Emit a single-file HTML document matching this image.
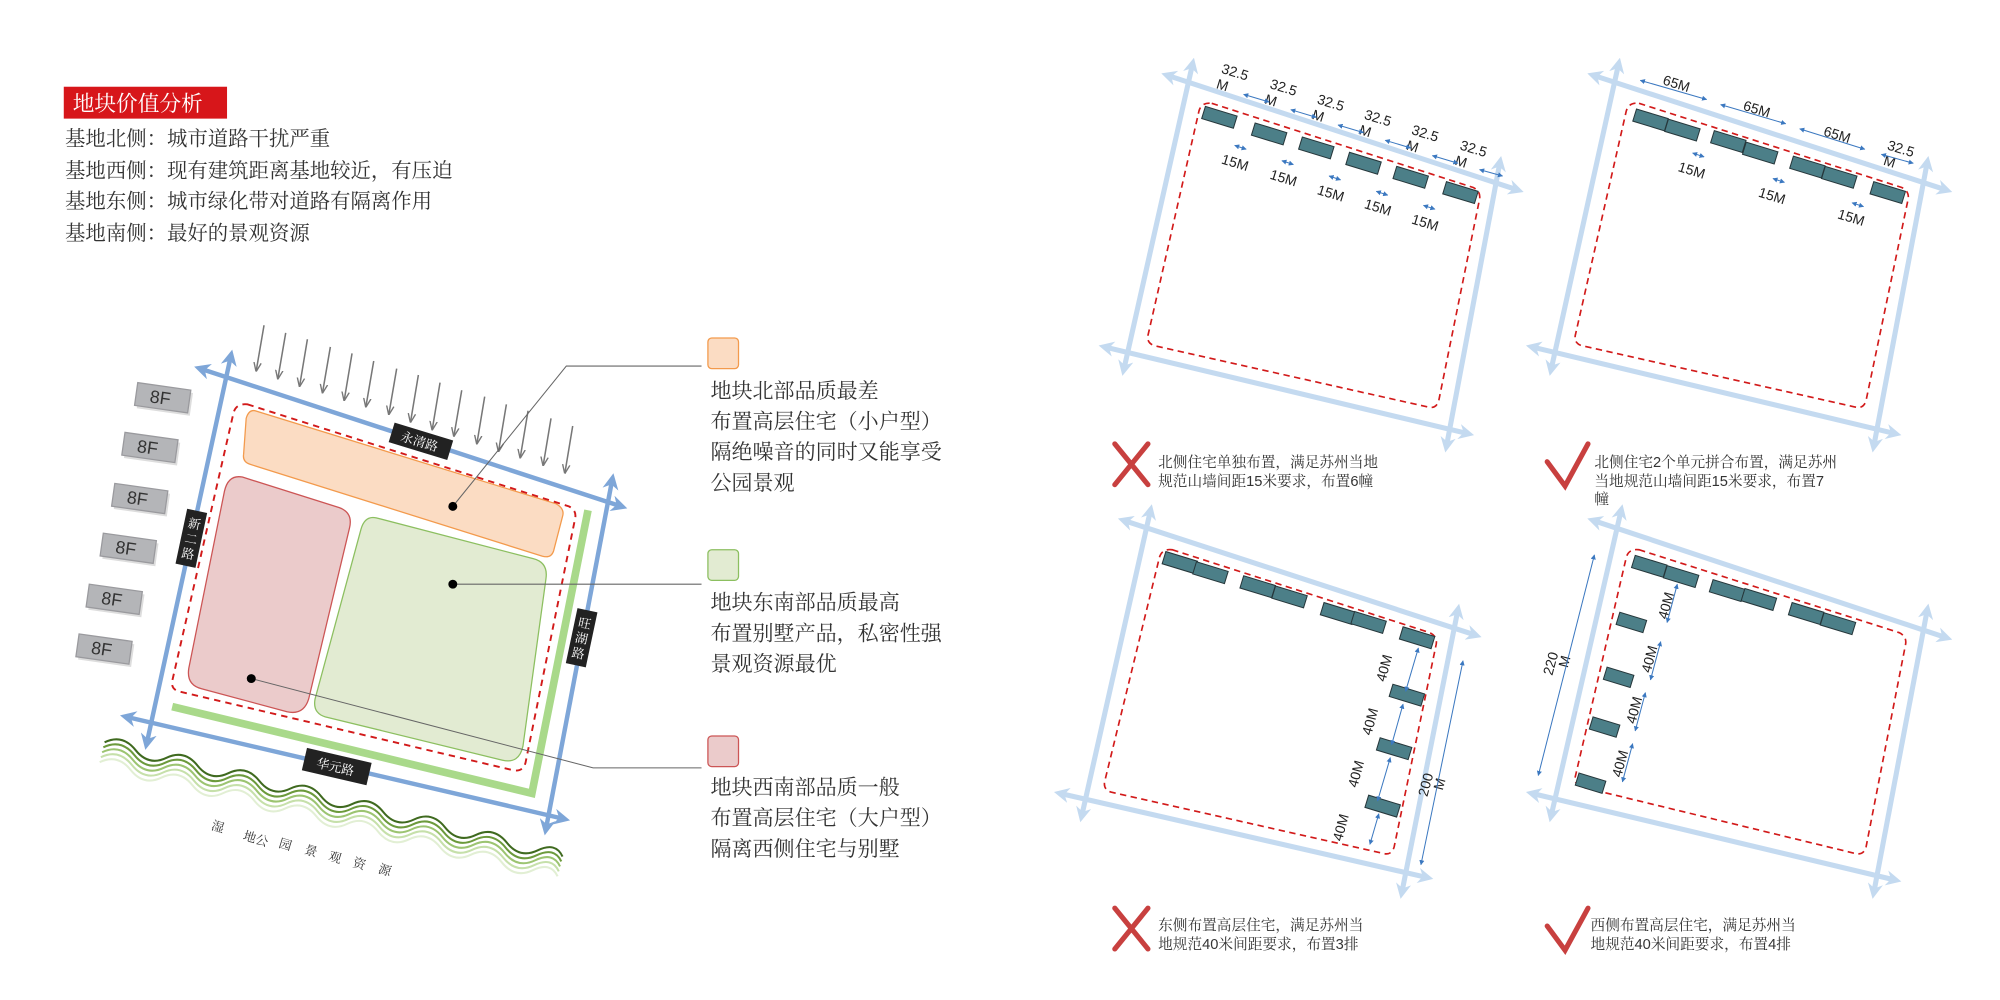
<!DOCTYPE html>
<html><head><meta charset="utf-8"><style>
html,body{margin:0;padding:0;background:#fff;}
svg{display:block}
text{font-family:"Liberation Sans","Noto Serif CJK SC","Noto Sans CJK SC",serif;}
.s{font-family:"Liberation Sans","Noto Sans CJK SC",sans-serif;}
</style></head><body>
<svg width="2000" height="1000" viewBox="0 0 1568 784" xmlns="http://www.w3.org/2000/svg">
<defs>
<marker id="ab" viewBox="0 0 10 10" refX="6" refY="5" markerWidth="3.6" markerHeight="3.6" orient="auto-start-reverse"><path d="M0,0 L10,5 L0,10 L3,5 z" fill="#7ea6d8"/></marker>
<marker id="al" viewBox="0 0 10 10" refX="6" refY="5" markerWidth="3" markerHeight="3" orient="auto-start-reverse"><path d="M0,0 L10,5 L0,10 L3,5 z" fill="#c4daf0"/></marker>
<marker id="ag" viewBox="0 0 10 10" refX="8" refY="5" markerWidth="6" markerHeight="6" orient="auto"><path d="M0,1 L10,5 L0,9" fill="none" stroke="#777" stroke-width="1.5"/></marker>
<marker id="ad" viewBox="0 0 10 10" refX="9" refY="5" markerWidth="5" markerHeight="5" orient="auto-start-reverse"><path d="M0,0 L10,5 L0,10 z" fill="#3b78c0"/></marker>
<g id="bld"><rect x="-13" y="-5" width="26" height="10" fill="#4c7f88" stroke="#26373b" stroke-width="0.8" transform="rotate(17)"/></g>
</defs>

<rect x="50" y="68" width="128" height="25" fill="#d7161a"/>
<text x="57" y="87" font-size="17" fill="#fff">地块价值分析</text>
<g font-size="16" fill="#333">
<text x="51" y="114">基地北侧：城市道路干扰严重</text>
<text x="51" y="139">基地西侧：现有建筑距离基地较近，有压迫</text>
<text x="51" y="163">基地东侧：城市绿化带对道路有隔离作用</text>
<text x="51" y="188">基地南侧：最好的景观资源</text>
</g>

<g stroke="#777" stroke-width="1.2" marker-end="url(#ag)">
<line x1="207" y1="255" x2="201" y2="290"/>
<line x1="224" y1="261" x2="218" y2="296"/>
<line x1="241" y1="266" x2="235" y2="302"/>
<line x1="259" y1="272" x2="253" y2="307"/>
<line x1="276" y1="277" x2="270" y2="313"/>
<line x1="293" y1="283" x2="287" y2="318"/>
<line x1="311" y1="289" x2="305" y2="324"/>
<line x1="328" y1="294" x2="322" y2="330"/>
<line x1="345" y1="300" x2="339" y2="336"/>
<line x1="362" y1="306" x2="356" y2="341"/>
<line x1="380" y1="311" x2="374" y2="347"/>
<line x1="397" y1="317" x2="391" y2="353"/>
<line x1="414" y1="322" x2="408" y2="358"/>
<line x1="432" y1="328" x2="426" y2="364"/>
<line x1="449" y1="334" x2="443" y2="370"/>
</g>

<g font-size="14" fill="#333" class="s">
<g transform="translate(108,300) rotate(8)"><rect x="2" y="2" width="42" height="18" fill="#ddd"/><rect width="42" height="18" fill="#b4b5b8" stroke="#9a9a9e"/><text x="11" y="14">8F</text></g>
<g transform="translate(98,339) rotate(8)"><rect x="2" y="2" width="42" height="18" fill="#ddd"/><rect width="42" height="18" fill="#b4b5b8" stroke="#9a9a9e"/><text x="11" y="14">8F</text></g>
<g transform="translate(90,379) rotate(8)"><rect x="2" y="2" width="42" height="18" fill="#ddd"/><rect width="42" height="18" fill="#b4b5b8" stroke="#9a9a9e"/><text x="11" y="14">8F</text></g>
<g transform="translate(81,418) rotate(8)"><rect x="2" y="2" width="42" height="18" fill="#ddd"/><rect width="42" height="18" fill="#b4b5b8" stroke="#9a9a9e"/><text x="11" y="14">8F</text></g>
<g transform="translate(70,458) rotate(8)"><rect x="2" y="2" width="42" height="18" fill="#ddd"/><rect width="42" height="18" fill="#b4b5b8" stroke="#9a9a9e"/><text x="11" y="14">8F</text></g>
<g transform="translate(62,497) rotate(8)"><rect x="2" y="2" width="42" height="18" fill="#ddd"/><rect width="42" height="18" fill="#b4b5b8" stroke="#9a9a9e"/><text x="11" y="14">8F</text></g>
</g>

<path d="M135,554 L417,622 L461,400" fill="none" stroke="#a9d98a" stroke-width="6"/>

<path d="M200,322 L436,395 Q443,399 441,405 L434,432 Q432,438 425,436 L196,364 Q190,362 191,356 L193,328 Q195,321 200,322 Z" fill="#fbdcc3" stroke="#f39a4c" stroke-width="1"/>
<path d="M190,374 L266,398 Q277,402 274,414 L242,548 Q238,561 225,558 L158,540 Q146,537 148,524 L176,385 Q179,372 190,374 Z" fill="#ebcbcb" stroke="#cc5555" stroke-width="1"/>
<path d="M295,406 L418,438 Q430,441 428,454 L410,585 Q407,599 394,596 L255,562 Q245,559 247,548 L283,415 Q286,404 295,406 Z" fill="#e2ebd2" stroke="#8cbf60" stroke-width="1"/>

<path d="M194,317 L446,397 Q452,400 451,406 L412,598 Q410,605 403,604 L140,542 Q134,540 135,534 L183,324 Q185,316 194,317 Z" fill="none" stroke="#d21a1a" stroke-width="1.5" stroke-dasharray="5,4"/>

<g stroke="#7ea6d8" stroke-width="3.5" fill="none" marker-start="url(#ab)" marker-end="url(#ab)">
<line x1="157" y1="289" x2="487" y2="397"/>
<line x1="181" y1="279" x2="115" y2="583"/>
<line x1="99" y1="562" x2="442" y2="642"/>
<line x1="480" y1="376" x2="428" y2="650"/>
</g>
<g font-size="10" fill="#fff" class="s">
<g transform="translate(330,346) rotate(17)"><rect x="-24" y="-8" width="48" height="16" fill="#222"/><text x="-16" y="4">永清路</text></g>
<g transform="translate(264,601) rotate(13)"><rect x="-26" y="-9" width="52" height="18" fill="#222"/><text x="-16" y="4">华元路</text></g>
<g transform="translate(150,422) rotate(12)"><rect x="-8" y="-22" width="16" height="44" fill="#222"/><text x="-5" y="-8" font-size="10">新</text><text x="-5" y="4">二</text><text x="-5" y="16">路</text></g>
<g transform="translate(456,500) rotate(12)"><rect x="-8" y="-22" width="16" height="44" fill="#222"/><text x="-5" y="-8">旺</text><text x="-5" y="4">湖</text><text x="-5" y="16">路</text></g>
</g>

<g fill="none" stroke-width="1.6" transform="translate(82,582) rotate(14)">
<path d="M0,0 q12,-10 25,0 t25,0 t25,0 t25,0 t25,0 t25,0 t25,0 t25,0 t25,0 t25,0 t25,0 t25,0 t25,0 t25,0 t20,0" stroke="#3f6a1f"/>
<path d="M0,4 q12,-10 25,0 t25,0 t25,0 t25,0 t25,0 t25,0 t25,0 t25,0 t25,0 t25,0 t25,0 t25,0 t25,0 t25,0 t20,0" stroke="#6c9a3c"/>
<path d="M0,8 q12,-10 25,0 t25,0 t25,0 t25,0 t25,0 t25,0 t25,0 t25,0 t25,0 t25,0 t25,0 t25,0 t25,0 t25,0 t20,0" stroke="#9cc471"/>
<path d="M0,12 q12,-10 25,0 t25,0 t25,0 t25,0 t25,0 t25,0 t25,0 t25,0 t25,0 t25,0 t25,0 t25,0 t25,0 t25,0 t20,0" stroke="#c6e0aa"/>
<path d="M0,16 q12,-10 25,0 t25,0 t25,0 t25,0 t25,0 t25,0 t25,0 t25,0 t25,0 t25,0 t25,0 t25,0 t25,0 t25,0 t20,0" stroke="#e2efd4"/>
</g>
<g font-size="10" fill="#333" class="s">
<text x="165" y="650" transform="rotate(17 165 650)">湿</text>
<text x="190" y="658" transform="rotate(17 190 658)">地公</text>
<text x="218" y="664" transform="rotate(17 218 664)">园</text>
<text x="238" y="669" transform="rotate(17 238 669)">景</text>
<text x="257" y="674" transform="rotate(17 257 674)">观</text>
<text x="276" y="679" transform="rotate(17 276 679)">资</text>
<text x="296" y="684" transform="rotate(17 296 684)">源</text>
</g>

<g stroke="#666" stroke-width="0.8" fill="none">
<polyline points="355,397 444,287 550,287"/>
<polyline points="355,458 550,458"/>
<polyline points="197,532 465,602 550,602"/>
</g>
<circle cx="355" cy="397" r="3.5"/><circle cx="355" cy="458" r="3.5"/><circle cx="197" cy="532" r="3.5"/>
<rect x="555" y="265" width="24" height="24" rx="3" fill="#fbdcc3" stroke="#f39a4c"/>
<rect x="555" y="431" width="24" height="24" rx="3" fill="#e2ebd2" stroke="#8cbf60"/>
<rect x="555" y="577" width="24" height="24" rx="3" fill="#ebcbcb" stroke="#cc5555"/>
<g font-size="16.5" fill="#333">
<text x="557" y="312">地块北部品质最差</text>
<text x="557" y="336">布置高层住宅（小户型）</text>
<text x="557" y="360">隔绝噪音的同时又能享受</text>
<text x="557" y="384">公园景观</text>
<text x="557" y="478">地块东南部品质最高</text>
<text x="557" y="502">布置别墅产品，私密性强</text>
<text x="557" y="526">景观资源最优</text>
<text x="557" y="623">地块西南部品质一般</text>
<text x="557" y="647">布置高层住宅（大户型）</text>
<text x="557" y="671">隔离西侧住宅与别墅</text>
</g>

<g stroke="#c4daf0" stroke-width="4" fill="none" marker-start="url(#al)" marker-end="url(#al)">
<line x1="915" y1="59" x2="1190" y2="149"/><line x1="935" y1="50" x2="881" y2="290"/>
<line x1="866" y1="272" x2="1151" y2="340"/><line x1="1176" y1="127" x2="1134" y2="350"/>
<line x1="1249" y1="59" x2="1526" y2="149"/><line x1="1269" y1="50" x2="1216" y2="290"/>
<line x1="1201" y1="272" x2="1486" y2="340"/><line x1="1511" y1="127" x2="1469" y2="350"/>
<line x1="881" y1="408" x2="1157" y2="498"/><line x1="902" y1="400" x2="848" y2="640"/>
<line x1="831" y1="622" x2="1119" y2="688"/><line x1="1143" y1="478" x2="1099" y2="700"/>
<line x1="1249" y1="408" x2="1526" y2="500"/><line x1="1271" y1="400" x2="1216" y2="640"/>
<line x1="1201" y1="622" x2="1486" y2="690"/><line x1="1511" y1="478" x2="1469" y2="700"/>
</g>
<g stroke="#d21a1a" stroke-width="1.3" fill="none" stroke-dasharray="5,3.5">
<path d="M950,81 L1155,147 Q1161,150 1160,156 L1128,314 Q1126,321 1119,319 L905,271 Q899,269 900,263 L940,87 Q942,80 950,81 Z"/>
<path d="M1285,81 L1491,147 Q1497,150 1496,156 L1463,314 Q1461,321 1454,319 L1240,271 Q1234,269 1235,263 L1275,87 Q1277,80 1285,81 Z"/>
<path d="M919,431 L1121,496 Q1127,499 1126,505 L1093,664 Q1091,671 1084,669 L871,621 Q865,619 866,613 L909,437 Q911,430 919,431 Z"/>
<path d="M1285,431 L1489,496 Q1495,499 1494,505 L1463,664 Q1461,671 1454,669 L1240,617 Q1234,615 1235,609 L1275,437 Q1277,430 1285,431 Z"/>
</g>

<use href="#bld" x="956" y="92"/><use href="#bld" x="995" y="105"/><use href="#bld" x="1032" y="116"/>
<use href="#bld" x="1069" y="128"/><use href="#bld" x="1106" y="139"/><use href="#bld" x="1145" y="151"/>

<use href="#bld" x="1294" y="94"/><use href="#bld" x="1319" y="102"/><use href="#bld" x="1355" y="111"/><use href="#bld" x="1380" y="120"/>
<use href="#bld" x="1417" y="131"/><use href="#bld" x="1442" y="139"/><use href="#bld" x="1480" y="151"/>

<use href="#bld" x="925" y="441"/><use href="#bld" x="949" y="449"/><use href="#bld" x="986" y="460"/><use href="#bld" x="1011" y="468"/>
<use href="#bld" x="1049" y="481"/><use href="#bld" x="1073" y="488"/><use href="#bld" x="1111" y="500"/>
<use href="#bld" x="1103" y="545"/><use href="#bld" x="1093" y="587"/><use href="#bld" x="1084" y="632"/>

<use href="#bld" x="1293" y="444"/><use href="#bld" x="1318" y="452"/><use href="#bld" x="1354" y="463"/><use href="#bld" x="1379" y="470"/>
<use href="#bld" x="1416" y="481"/><use href="#bld" x="1441" y="489"/>
<g><rect x="-11" y="-5" width="22" height="10" fill="#4c7f88" stroke="#26373b" stroke-width="0.8" transform="translate(1279,488) rotate(17)"/>
<rect x="-11" y="-5" width="22" height="10" fill="#4c7f88" stroke="#26373b" stroke-width="0.8" transform="translate(1269,531) rotate(17)"/>
<rect x="-11" y="-5" width="22" height="10" fill="#4c7f88" stroke="#26373b" stroke-width="0.8" transform="translate(1258,570) rotate(17)"/>
<rect x="-11" y="-5" width="22" height="10" fill="#4c7f88" stroke="#26373b" stroke-width="0.8" transform="translate(1247,614) rotate(17)"/></g>

<g font-size="11" fill="#222" class="s">
<text x="957" y="57" transform="rotate(17 957 57)">32.5</text><text x="953" y="69" transform="rotate(17 953 69)">M</text>
<text x="995" y="69" transform="rotate(17 995 69)">32.5</text><text x="991" y="81" transform="rotate(17 991 81)">M</text>
<text x="1032" y="81" transform="rotate(17 1032 81)">32.5</text><text x="1028" y="93" transform="rotate(17 1028 93)">M</text>
<text x="1069" y="93" transform="rotate(17 1069 93)">32.5</text><text x="1065" y="105" transform="rotate(17 1065 105)">M</text>
<text x="1106" y="105" transform="rotate(17 1106 105)">32.5</text><text x="1102" y="117" transform="rotate(17 1102 117)">M</text>
<text x="1144" y="117" transform="rotate(17 1144 117)">32.5</text><text x="1140" y="129" transform="rotate(17 1140 129)">M</text>
<text x="957" y="128" transform="rotate(17 957 128)">15M</text>
<text x="995" y="140" transform="rotate(17 995 140)">15M</text>
<text x="1032" y="152" transform="rotate(17 1032 152)">15M</text>
<text x="1069" y="163" transform="rotate(17 1069 163)">15M</text>
<text x="1106" y="175" transform="rotate(17 1106 175)">15M</text>

<text x="1303" y="66" transform="rotate(17 1303 66)">65M</text>
<text x="1366" y="86" transform="rotate(17 1366 86)">65M</text>
<text x="1429" y="106" transform="rotate(17 1429 106)">65M</text>
<text x="1479" y="117" transform="rotate(17 1479 117)">32.5</text><text x="1476" y="129" transform="rotate(17 1476 129)">M</text>
<text x="1315" y="134" transform="rotate(17 1315 134)">15M</text>
<text x="1378" y="154" transform="rotate(17 1378 154)">15M</text>
<text x="1440" y="171" transform="rotate(17 1440 171)">15M</text>

<text x="1086" y="535" transform="rotate(-75 1086 535)">40M</text>
<text x="1075" y="577" transform="rotate(-75 1075 577)">40M</text>
<text x="1064" y="618" transform="rotate(-75 1064 618)">40M</text>
<text x="1052" y="660" transform="rotate(-75 1052 660)">40M</text>
<text x="1119" y="625" transform="rotate(-75 1119 625)">200</text><text x="1131" y="620" transform="rotate(-75 1131 620)">M</text>

<text x="1307" y="486" transform="rotate(-75 1307 486)">40M</text>
<text x="1294" y="528" transform="rotate(-75 1294 528)">40M</text>
<text x="1282" y="568" transform="rotate(-75 1282 568)">40M</text>
<text x="1271" y="610" transform="rotate(-75 1271 610)">40M</text>
<text x="1217" y="530" transform="rotate(-75 1217 530)">220</text><text x="1229" y="524" transform="rotate(-75 1229 524)">M</text>
</g>
<g stroke="#3b78c0" stroke-width="0.8" marker-start="url(#ad)" marker-end="url(#ad)">
<line x1="975" y1="74" x2="995" y2="80"/><line x1="1012" y1="86" x2="1032" y2="92"/>
<line x1="1049" y1="98" x2="1069" y2="104"/><line x1="1086" y1="110" x2="1106" y2="116"/>
<line x1="1123" y1="122" x2="1143" y2="128"/><line x1="1160" y1="133" x2="1178" y2="138"/>
<line x1="968" y1="114" x2="977" y2="117"/><line x1="1005" y1="126" x2="1014" y2="129"/>
<line x1="1042" y1="138" x2="1051" y2="141"/><line x1="1079" y1="150" x2="1088" y2="153"/>
<line x1="1116" y1="161" x2="1125" y2="164"/>
<line x1="1286" y1="63" x2="1338" y2="78"/><line x1="1349" y1="82" x2="1400" y2="97"/>
<line x1="1411" y1="101" x2="1462" y2="117"/><line x1="1475" y1="121" x2="1500" y2="128"/>
<line x1="1327" y1="120" x2="1336" y2="123"/><line x1="1390" y1="140" x2="1399" y2="143"/>
<line x1="1452" y1="159" x2="1461" y2="162"/>
<line x1="1147" y1="518" x2="1114" y2="678"/>
<line x1="1250" y1="435" x2="1206" y2="608"/>
<line x1="1112" y1="508" x2="1102" y2="542"/><line x1="1100" y1="552" x2="1091" y2="584"/>
<line x1="1090" y1="594" x2="1080" y2="628"/><line x1="1081" y1="638" x2="1074" y2="662"/>
<line x1="1315" y1="458" x2="1307" y2="488"/><line x1="1302" y1="503" x2="1294" y2="533"/>
<line x1="1290" y1="543" x2="1282" y2="573"/><line x1="1280" y1="583" x2="1272" y2="613"/>
</g>

<g stroke="#c8403f" stroke-width="4" fill="none" stroke-linecap="round">
<path d="M874,348 L900,380 M900,348 L874,380"/>
<path d="M1213,362 L1227,381 L1245,348"/>
<path d="M874,712 L900,744 M900,712 L874,744"/>
<path d="M1213,726 L1227,745 L1245,712"/>
</g>
<g font-size="11.5" fill="#333" class="s">
<text x="908" y="366">北侧住宅单独布置，满足苏州当地</text>
<text x="908" y="381">规范山墙间距15米要求，布置6幢</text>
<text x="1250" y="366">北侧住宅2个单元拼合布置，满足苏州</text>
<text x="1250" y="381">当地规范山墙间距15米要求，布置7</text>
<text x="1250" y="395">幢</text>
<text x="908" y="729">东侧布置高层住宅，满足苏州当</text>
<text x="908" y="744">地规范40米间距要求，布置3排</text>
<text x="1247" y="729">西侧布置高层住宅，满足苏州当</text>
<text x="1247" y="744">地规范40米间距要求，布置4排</text>
</g>
</svg>
</body></html>
